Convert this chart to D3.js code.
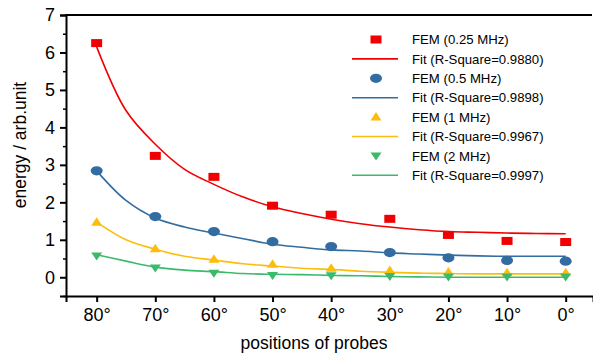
<!DOCTYPE html>
<html>
<head>
<meta charset="utf-8">
<script src="https://cdn.jsdelivr.net/npm/d3@7"></script>
<style>
  html, body { margin: 0; padding: 0; background: #fff; }
  svg { display: block; font-family: "Liberation Sans", Arial, sans-serif; }
</style>
</head>
<body>
<svg id="chart" width="593" height="356"></svg>
<script>
// Probe positions (degrees) where FEM energies were sampled
const positions = [80, 70, 60, 50, 40, 30, 20, 10, 0];
// FEM energies per excitation frequency
const fem025 = [6.25, 3.24, 2.68, 1.91, 1.67, 1.56, 1.13, 0.97, 0.94];
const fem05  = [2.84, 1.62, 1.22, 0.95, 0.82, 0.66, 0.52, 0.45, 0.43];
const fem1   = [1.47, 0.76, 0.48, 0.35, 0.24, 0.18, 0.14, 0.12, 0.12];
const fem2   = [0.57, 0.25, 0.11, 0.05, 0.04, 0.02, 0.01, 0.01, 0.01];

// Fitted curves, sampled every 5 degrees
const fitPositions = [80, 75, 70, 65, 60, 55, 50, 45, 40, 35, 30, 25, 20, 15, 10, 5, 0];
const fit025 = [6.15, 4.45, 3.55, 2.88, 2.48, 2.14, 1.88, 1.70, 1.55, 1.43, 1.34, 1.27, 1.22, 1.20, 1.18, 1.17, 1.16];
const fit05  = [2.84, 2.05, 1.58, 1.34, 1.18, 1.03, 0.88, 0.80, 0.73, 0.70, 0.65, 0.62, 0.59, 0.57, 0.56, 0.56, 0.56];
const fit1   = [1.47, 1.00, 0.75, 0.56, 0.46, 0.36, 0.30, 0.24, 0.21, 0.16, 0.13, 0.11, 0.10, 0.09, 0.09, 0.09, 0.09];
const fit2   = [0.60, 0.43, 0.27, 0.19, 0.15, 0.10, 0.08, 0.07, 0.05, 0.04, 0.02, 0.01, 0.00, 0.00, 0.00, 0.00, 0.00];

const femLabels = ["FEM (0.25 MHz)", "FEM (0.5 MHz)", "FEM (1 MHz)", "FEM (2 MHz)"];
const fitLabels = ["Fit (R-Square=0.9880)", "Fit (R-Square=0.9898)", "Fit (R-Square=0.9967)", "Fit (R-Square=0.9997)"];
const xTicks = [80, 70, 60, 50, 40, 30, 20, 10, 0];
const yTicks = [0, 1, 2, 3, 4, 5, 6, 7];

const colors = ["#f00000", "#336ca0", "#fcbd0c", "#3cba6c"];
const shapes = ["square", "ellipse", "up", "down"];

const svg = d3.select("#chart");
const plotLeft = 66, plotRight = 593, plotTop = 15, plotBottom = 296;

const x = d3.scaleLinear().domain([85.23, -4.66]).range([plotLeft, plotRight]);
const y = d3.scaleLinear().domain([-0.5, 7]).range([plotBottom, plotTop]);

const series = [
  { fem: fem025, fit: fit025 },
  { fem: fem05,  fit: fit05 },
  { fem: fem1,   fit: fit1 },
  { fem: fem2,   fit: fit2 }
];

// marker drawing
function marker(g, shape, color, cx, cy) {
  if (shape === "square") {
    g.append("rect").attr("x", cx - 5.5).attr("y", cy - 4).attr("width", 11).attr("height", 8).attr("fill", color);
  } else if (shape === "ellipse") {
    g.append("ellipse").attr("cx", cx).attr("cy", cy).attr("rx", 6).attr("ry", 4.6).attr("fill", color);
  } else if (shape === "up") {
    g.append("path").attr("d", `M${cx - 5.5},${cy + 3.5} L${cx + 5.5},${cy + 3.5} L${cx},${cy - 5} Z`).attr("fill", color);
  } else {
    g.append("path").attr("d", `M${cx - 5.5},${cy - 3.5} L${cx + 5.5},${cy - 3.5} L${cx},${cy + 4.5} Z`).attr("fill", color);
  }
}

const line = d3.line().x(d => x(d[0])).y(d => y(d[1])).curve(d3.curveCatmullRom.alpha(0.5));

const plot = svg.append("g");
series.forEach((s, i) => {
  plot.append("path")
    .datum(fitPositions.map((p, j) => [p, s.fit[j]]))
    .attr("d", line)
    .attr("fill", "none")
    .attr("stroke", colors[i])
    .attr("stroke-width", 1.6);
});
series.forEach((s, i) => {
  const g = plot.append("g");
  positions.forEach((p, j) => marker(g, shapes[i], colors[i], x(p), y(s.fem[j])));
});

// axes
const yAxis = d3.axisLeft(y).tickValues(yTicks).tickSize(6).tickPadding(5).tickFormat(d3.format("d"));
const gy = svg.append("g").attr("transform", `translate(${plotLeft},0)`).call(yAxis);
const yMinor = d3.axisLeft(y).tickValues(d3.range(-0.5, 7.01, 1)).tickSize(3).tickFormat("");
const gym = svg.append("g").attr("transform", `translate(${plotLeft},0)`).call(yMinor);
gym.select(".domain").remove();

const xAxis = d3.axisBottom(x).tickValues(xTicks).tickSize(6).tickPadding(6).tickFormat(d => d + "°");
const gx = svg.append("g").attr("transform", `translate(0,${plotBottom})`).call(xAxis);

[gy, gx].forEach(g => {
  g.select(".domain").attr("stroke", "#000").attr("stroke-width", 2);
  g.selectAll(".tick line").attr("stroke", "#000").attr("stroke-width", 2);
  g.selectAll(".tick text").attr("fill", "#000").attr("font-size", 18).attr("font-family", "Liberation Sans, Arial, sans-serif");
});
gym.selectAll(".tick line").attr("stroke", "#000").attr("stroke-width", 1.5);

// top frame line
svg.append("line").attr("x1", plotLeft - 1).attr("x2", 592).attr("y1", plotTop).attr("y2", plotTop)
  .attr("stroke", "#000").attr("stroke-width", 2);

// axis titles
svg.append("text").attr("x", 314).attr("y", 349).attr("text-anchor", "middle")
  .attr("font-size", 17.5).attr("fill", "#000").text("positions of probes");
svg.append("text").attr("transform", "translate(26,145) rotate(-90)").attr("text-anchor", "middle")
  .attr("font-size", 17.5).attr("fill", "#000").text("energy / arb.unit");

// legend
const lg = svg.append("g");
const rowY0 = 39.5, rowH = 19.4;
series.forEach((s, i) => {
  const yFem = rowY0 + rowH * (2 * i);
  const yFit = rowY0 + rowH * (2 * i + 1);
  marker(lg, shapes[i], colors[i], 376, yFem);
  lg.append("line").attr("x1", 352).attr("x2", 398).attr("y1", yFit).attr("y2", yFit)
    .attr("stroke", colors[i]).attr("stroke-width", 1.6);
  lg.append("text").attr("x", 412).attr("y", yFem).attr("dy", "0.35em").attr("font-size", 13.2).attr("fill", "#000").text(femLabels[i]);
  lg.append("text").attr("x", 412).attr("y", yFit).attr("dy", "0.35em").attr("font-size", 13.2).attr("fill", "#000").text(fitLabels[i]);
});
</script>
</body>
</html>
